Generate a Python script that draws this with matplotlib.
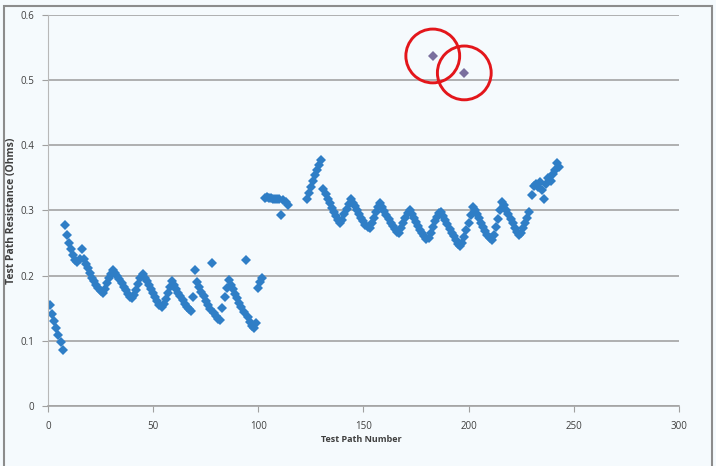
import matplotlib

matplotlib.use("Agg")
import matplotlib.pyplot as plt
import numpy as np
from matplotlib.patches import Rectangle

# Test path resistance readings (Ohms), indexed by test path number
seg1_start = 1
seg1_ohms = [0.155, 0.141, 0.130, 0.120, 0.109, 0.098, 0.086]

seg2_start = 8
seg2_ohms = [
    0.277, 0.262, 0.250, 0.240, 0.232, 0.224, 0.221, 0.226, 0.241, 0.226,
    0.218, 0.211, 0.204, 0.197, 0.191, 0.186, 0.181, 0.176, 0.174, 0.180,
    0.188, 0.196, 0.203, 0.208, 0.204, 0.199, 0.194, 0.188, 0.183, 0.178,
    0.172, 0.167, 0.165, 0.170, 0.178, 0.187, 0.196, 0.203, 0.197, 0.191,
    0.185, 0.179, 0.173, 0.167, 0.161, 0.155, 0.151, 0.156, 0.164, 0.173,
    0.182, 0.191, 0.186, 0.180, 0.174, 0.168, 0.162, 0.157, 0.152, 0.148,
    0.146, 0.167, 0.209, 0.190, 0.182, 0.175, 0.168, 0.161, 0.155, 0.149,
    0.219, 0.143, 0.138, 0.134, 0.132, 0.150, 0.167, 0.181, 0.193, 0.186,
    0.179, 0.172, 0.165, 0.158, 0.151, 0.144, 0.224, 0.136, 0.129, 0.122,
    0.120, 0.127, 0.181, 0.190, 0.197,
]

seg3_start = 103
seg3_ohms = [0.319, 0.320, 0.319, 0.319, 0.318, 0.318, 0.317, 0.317,
             0.293, 0.316, 0.313, 0.309]

seg4_start = 123
seg4_ohms = [
    0.318, 0.326, 0.336, 0.345, 0.354, 0.362, 0.370, 0.377, 0.333, 0.325,
    0.318, 0.311, 0.304, 0.298, 0.291, 0.285, 0.280, 0.286, 0.294, 0.302,
    0.310, 0.317, 0.312, 0.306, 0.300, 0.294, 0.288, 0.283, 0.278, 0.274,
    0.273, 0.280, 0.289, 0.298, 0.305, 0.311, 0.305, 0.299, 0.293, 0.287,
    0.281, 0.276, 0.271, 0.267, 0.266, 0.273, 0.281, 0.289, 0.296, 0.300,
    0.294, 0.288, 0.282, 0.276, 0.270, 0.265, 0.260, 0.256, 0.258, 0.266,
    0.275, 0.283, 0.290, 0.296, 0.298, 0.292, 0.286, 0.279, 0.272, 0.266,
    0.260, 0.254, 0.249, 0.245, 0.250, 0.259, 0.270, 0.281, 0.293, 0.305,
    0.301, 0.295, 0.288, 0.281, 0.274, 0.268, 0.262, 0.257, 0.255, 0.262,
    0.274, 0.287, 0.300, 0.313, 0.308, 0.301, 0.294, 0.287, 0.280, 0.273,
    0.267, 0.263, 0.266, 0.273, 0.281, 0.289, 0.297, 0.324, 0.338, 0.341,
    0.336, 0.343, 0.331, 0.317, 0.340, 0.349, 0.345, 0.356, 0.362, 0.372,
    0.367,
]

# the two flagged readings
outlier_paths = [183, 198]
outlier_ohms = [0.537, 0.511]

x_ticks = [0, 50, 100, 150, 200, 250, 300]
y_ticks = [0, 0.1, 0.2, 0.3, 0.4, 0.5, 0.6]
y_tick_labels = ["0", "0.1", "0.2", "0.3", "0.4", "0.5", "0.6"]

BLUE = "#2f7ec6"
BG = "#f5fafd"
GRID = "#a3a3a3"
TEXT = "#3f3f3f"

plt.rcParams["font.family"] = ["Open Sans", "DejaVu Sans"]

fig = plt.figure(figsize=(7.16, 4.66), dpi=100, facecolor=BG)
ax = fig.add_axes([0.067, 0.129, 0.881, 0.839], facecolor=BG)

for start, ohms in [(seg1_start, seg1_ohms), (seg2_start, seg2_ohms),
                    (seg3_start, seg3_ohms), (seg4_start, seg4_ohms)]:
    paths = np.arange(start, start + len(ohms))
    ax.plot(paths, ohms, linestyle="none", marker="D", markersize=5.0,
            color=BLUE, markeredgewidth=0)

ax.plot(outlier_paths, outlier_ohms, linestyle="none", marker="D",
        markersize=4.6, color="#7a6f9e", markeredgewidth=0, zorder=3)
ax.scatter(outlier_paths, outlier_ohms, s=1500, facecolors="none",
           edgecolors="#e3161b", linewidths=2.1, zorder=4, clip_on=False)

ax.set_xlim(0, 300)
ax.set_ylim(0, 0.6)
ax.set_xticks(x_ticks)
ax.set_yticks(y_ticks)
ax.set_yticklabels(y_tick_labels)
ax.yaxis.grid(True, color=GRID, linewidth=1.2)
ax.set_axisbelow(True)

for side in ["top", "right"]:
    ax.spines[side].set_visible(False)
ax.spines["left"].set_color("#b8b8b8")
ax.spines["bottom"].set_color(GRID)
ax.spines["bottom"].set_linewidth(1.2)

ax.tick_params(axis="both", direction="out", length=4, width=0.8,
               colors="#a0a0a0", labelcolor=TEXT, labelsize=7)
ax.tick_params(axis="x", pad=7)
ax.tick_params(axis="y", pad=6)

ax.set_xlabel("Test Path Number", fontsize=6.5, fontweight="bold",
              color=TEXT)
ax.xaxis.set_label_coords(0.497, -0.075)
ax.set_ylabel("Test Path Resistance (Ohms)", fontsize=7.5,
              fontweight="bold", color=TEXT)
ax.yaxis.set_label_coords(-0.049, 0.5)

# outer chart frame
fig.patches.append(Rectangle((0.005, -0.02), 0.99, 1.008,
                             transform=fig.transFigure, fill=False,
                             edgecolor="#8c8c8c", linewidth=1.5))

fig.savefig("out.png", dpi=100, facecolor=BG)
